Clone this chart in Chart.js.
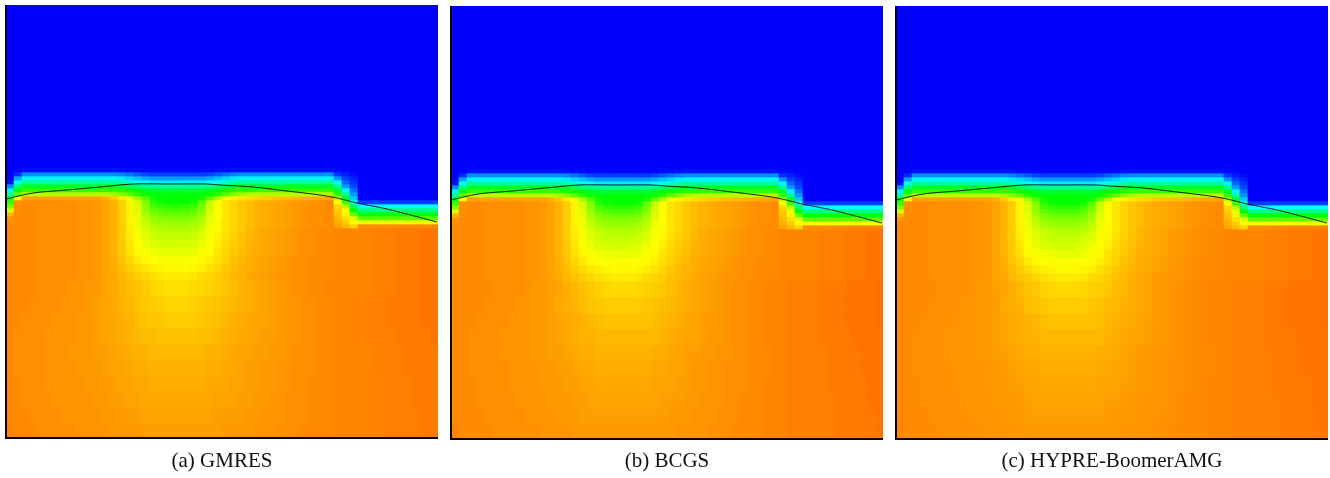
<!DOCTYPE html>
<html><head><meta charset="utf-8">
<script src="https://cdn.jsdelivr.net/npm/chart.js@4"></script>
<style>html,body{margin:0;padding:0;background:#fff;overflow:hidden}canvas{position:absolute;display:block}</style>
</head><body>
<canvas id="a"></canvas><canvas id="b"></canvas><canvas id="c"></canvas>
<script>
const captions=["(a) GMRES","(b) BCGS","(c) HYPRE-BoomerAMG"];
const rowEdges=[0,163,167,171,175,179,183,187,191,195,199,203,207,211,215,219,223,227,235,243,251,259,267,275,291,307,323,339,355,371,387,403,419,433];
const topRow=[0,0,0,0,0,0,0,0,0,0,0,0,0,0,0,0,0,0,0,0,0,0,0,0,0,0,0,0,0,0,0,0,0,0,0,0,0,0,0,0,0,0,0,0,0,0,0,0,0,0,0,0,0,0];
const frontRows=[
[0,0,3,3,3,3,3,3,3,3,3,3,3,3,3,2,2,1,1,1,1,1,1,1,1,1,2,2,3,3,3,3,3,3,3,3,3,3,3,3,3,2,1,0,0,0,0,0,0,0,0,0,0,0],
[0,8,28,28,28,28,28,28,28,28,28,28,28,28,26,22,18,14,12,12,12,12,12,12,12,14,18,22,26,28,28,28,28,28,28,28,28,28,28,28,28,10,6,2,0,0,0,0,0,0,0,0,0,0],
[0,32,48,48,48,48,48,48,48,48,48,48,48,48,46,42,38,33,30,30,30,30,30,30,30,33,38,42,46,48,48,48,48,48,48,48,48,48,48,48,48,28,12,6,0,0,0,0,0,0,0,0,0,0],
[3,54,70,70,70,70,70,70,70,70,70,70,70,70,66,60,54,49,46,46,46,46,46,46,46,49,54,60,66,70,70,70,70,70,70,70,70,70,70,70,70,48,20,10,0,0,0,0,0,0,0,0,0,0],
[28,76,92,92,92,92,92,92,92,92,92,92,92,92,88,84,78,73,70,70,70,70,70,70,70,73,78,84,88,92,92,92,92,92,92,92,92,92,92,92,92,70,30,14,0,0,0,0,0,0,0,0,0,0],
[48,98,110,110,110,110,110,110,110,110,110,110,110,110,107,103,98,94,90,90,90,90,90,90,90,94,98,103,107,110,110,110,110,110,110,110,110,110,110,110,110,92,48,22,0,0,0,0,0,0,0,0,0,0],
[70,118,136,136,136,136,136,136,136,136,136,136,136,132,126,118,108,102,98,98,98,98,98,98,98,102,108,118,126,132,136,136,136,136,136,136,136,136,136,136,136,110,70,30,0,0,0,0,0,0,0,0,0,0],
[92,148,168,168,168,168,168,168,168,168,168,168,165,160,154,146,132,116,104,100,100,100,100,100,104,118,134,148,152,154,156,158,160,161,162,163,164,165,166,167,168,136,92,40,0,0,0,0,0,0,0,0,0,0],
[110,172,173,173,173,172,172,172,172,171,171,170,168,165,160,152,142,126,108,103,101,100,101,104,118,138,150,155,158,161,163,165,166,167,168,169,170,171,172,172,173,150,112,60,12,12,12,12,12,12,12,12,12,12],
[124,172,173,173,172,172,172,172,172,171,171,170,168,165,160,152,143,128,114,110,108,108,108,112,122,140,150,155,158,161,163,165,166,167,168,169,170,171,172,172,173,158,136,78,50,50,50,50,50,50,50,50,50,50],
[144,172,173,173,172,172,172,172,172,171,171,170,168,165,160,152,144,130,120,116,114,114,114,118,126,141,150,155,158,161,163,165,166,167,168,169,170,171,172,172,173,160,148,100,74,74,74,74,74,74,74,74,74,74],
[164,172,173,173,172,172,172,172,172,171,171,170,168,165,160,152,145,133,125,121,120,120,120,122,130,143,150,155,158,161,163,165,166,167,168,169,170,171,172,172,173,162,152,120,96,96,96,96,96,96,96,96,96,96],
[170,173,173,173,172,172,172,172,172,171,171,170,168,165,160,152,146,136,129,126,125,125,125,127,134,145,150,155,158,161,163,165,166,167,168,169,170,171,172,172,173,164,156,144,118,118,118,118,118,118,118,118,118,118],
[172,173,173,173,172,172,172,172,172,171,171,170,168,165,160,152,147,138,132,130,129,129,129,131,136,146,151,155,158,161,163,165,166,167,168,169,170,171,172,172,173,166,160,150,146,146,146,146,146,146,146,146,146,146],
[173,173,173,173,172,172,172,172,172,171,171,170,168,165,160,153,147,140,135,133,132,132,132,134,138,147,151,155,158,161,163,165,166,167,168,169,170,171,172,172,173,168,164,158,172,172,172,172,173,173,173,173,173,174],
[173,173,173,173,172,172,172,172,172,171,171,170,168,165,160,153,148,142,138,136,135,135,135,137,141,148,151,155,158,161,164,166,167,168,169,170,171,172,172,173,173,174,174,174,174,174,175,175,175,176,176,176,177,177],
[173,173,173,173,172,172,172,172,172,171,171,170,168,165,160,154,149,144,140,138,138,138,138,140,143,149,152,156,159,162,164,166,167,168,169,170,171,172,172,173,173,174,174,174,174,174,175,175,175,176,176,176,177,177],
[173,173,173,173,172,172,172,172,172,171,171,170,168,165,161,155,150,146,143,142,141,141,142,143,146,150,153,157,160,162,165,166,167,168,169,170,171,172,172,173,173,174,174,174,174,174,175,175,175,176,176,176,177,177],
[173,173,173,173,172,172,172,172,172,171,171,170,168,165,161,156,151,149,147,146,145,145,145,146,149,151,155,158,161,163,165,166,167,168,169,170,171,172,172,173,173,174,174,174,174,174,175,175,175,176,176,176,177,177],
[173,173,173,173,172,172,172,172,172,171,171,170,168,166,162,158,154,151,150,149,149,149,149,150,151,153,156,159,162,164,166,167,168,169,170,171,172,172,173,173,173,174,174,174,174,174,175,175,175,176,176,176,177,177],
[173,173,173,173,172,172,172,172,172,171,171,170,168,166,163,160,157,155,153,152,151,151,151,152,153,156,158,161,163,165,166,167,168,169,170,171,172,172,173,173,173,174,174,174,174,174,175,175,175,176,176,176,177,177],
[173,173,173,173,172,172,172,172,172,171,171,170,168,167,164,162,160,158,156,155,154,154,154,155,157,158,160,162,164,165,167,168,169,170,171,171,172,172,173,173,173,174,174,174,174,174,175,175,175,176,176,176,177,177]
];
const bodyA=[
[173,173,173,173,172,172,172,172,171,171,170,170,168,167,165,163,162,160,158,157,156,156,156,157,158,159,160,162,163,165,166,167,168,169,170,171,172,172,173,173,174,174,174,174,174,174,175,175,175,176,176,176,177,177],
[173,173,173,172,172,172,172,171,171,171,170,169,168,167,165,164,162,161,160,159,158,158,158,159,160,161,162,163,164,165,166,167,168,169,170,171,171,172,172,173,173,174,174,174,174,175,175,175,176,176,176,176,177,177],
[173,173,172,172,172,172,171,171,171,170,170,169,168,167,166,165,163,162,161,161,160,160,160,160,161,162,163,164,165,166,167,168,168,169,170,171,171,172,172,173,173,174,174,174,174,175,175,175,176,176,176,176,177,177],
[173,172,172,172,172,171,171,171,171,170,170,169,168,167,166,165,164,163,163,162,162,162,162,162,163,163,164,165,166,167,167,168,169,169,170,171,171,172,172,173,173,174,174,174,174,175,175,175,175,176,176,176,176,177],
[173,172,172,172,172,171,171,171,170,170,170,169,169,168,167,166,165,165,164,164,164,164,164,164,164,165,165,166,167,168,168,169,169,170,170,171,172,172,172,173,173,174,174,174,174,174,175,175,175,175,176,176,176,176],
[173,172,172,172,172,171,171,171,171,170,170,170,169,168,168,167,166,166,165,165,165,165,165,165,165,166,166,167,167,168,169,169,170,170,171,171,172,172,172,173,173,174,174,174,174,174,175,175,175,175,176,176,176,176],
[173,173,172,172,172,171,171,171,171,171,170,170,169,169,168,168,167,167,166,166,166,166,166,166,166,167,167,167,168,168,169,169,170,170,171,171,172,172,173,173,173,174,174,174,174,174,174,175,175,175,175,176,176,176],
[173,173,172,172,172,172,171,171,171,171,171,170,170,169,169,168,168,167,167,167,167,167,167,167,167,167,168,168,168,169,169,170,170,171,171,172,172,172,173,173,173,174,174,174,174,174,174,175,175,175,175,176,176,176],
[173,173,173,172,172,172,172,171,171,171,171,171,170,170,169,169,169,168,168,168,168,168,168,168,168,168,169,169,169,169,170,170,171,171,171,172,172,172,173,173,173,174,174,174,174,174,174,175,175,175,175,175,176,176],
[174,173,173,173,172,172,172,172,172,171,171,171,171,170,170,170,170,169,169,169,169,169,169,169,169,169,169,170,170,170,170,171,171,171,172,172,172,173,173,173,173,174,174,174,174,174,174,175,175,175,175,175,176,176]
];
const bodyBC=[
[173,173,173,173,173,172,172,172,172,171,170,170,169,168,166,164,162,161,159,158,157,157,157,158,159,160,161,163,164,166,167,168,169,170,171,172,172,173,173,174,174,174,175,175,175,175,176,176,176,177,177,177,177,178],
[173,173,173,173,172,172,172,172,171,171,170,170,169,167,166,165,163,162,161,160,160,160,160,160,161,162,163,164,165,166,167,168,169,170,171,172,172,173,173,174,174,174,175,175,175,175,176,176,176,177,177,177,177,178],
[173,173,173,172,172,172,172,171,171,171,170,170,169,168,167,166,165,164,163,162,162,162,162,162,162,163,164,165,166,167,168,169,169,170,171,172,172,173,173,174,174,174,175,175,175,175,176,176,176,177,177,177,177,178],
[173,173,172,172,172,172,171,171,171,171,170,170,169,168,167,166,165,165,164,164,164,164,164,164,164,164,165,166,167,168,168,169,170,170,171,172,172,173,173,174,174,174,175,175,175,175,176,176,176,176,177,177,177,177],
[173,173,172,172,172,172,171,171,171,171,170,170,169,169,168,167,166,166,165,165,165,165,165,165,165,166,166,167,168,169,169,170,170,171,171,172,172,173,173,173,174,174,175,175,175,175,175,176,176,176,176,177,177,177],
[173,173,172,172,172,172,172,171,171,171,171,170,170,169,169,168,167,167,166,166,166,166,166,166,166,167,167,168,168,169,170,170,171,171,172,172,172,173,173,173,174,174,175,175,175,175,175,176,176,176,176,177,177,177],
[173,173,173,172,172,172,172,171,171,171,171,170,170,170,169,169,168,168,167,167,167,167,167,167,167,168,168,168,169,169,170,170,171,171,172,172,172,173,173,174,174,174,175,175,175,175,175,176,176,176,176,176,177,177],
[173,173,173,172,172,172,172,172,171,171,171,171,170,170,170,169,169,168,168,168,168,168,168,168,168,168,169,169,169,170,170,171,171,171,172,172,173,173,173,174,174,174,175,175,175,175,175,175,176,176,176,176,177,177],
[173,173,173,173,172,172,172,172,172,171,171,171,171,170,170,170,169,169,169,169,169,169,169,169,169,169,169,170,170,170,171,171,171,172,172,172,173,173,173,174,174,174,175,175,175,175,175,175,176,176,176,176,176,177],
[174,173,173,173,173,172,172,172,172,172,172,171,171,171,171,170,170,170,170,170,170,170,170,170,170,170,170,170,171,171,171,171,172,172,172,173,173,173,173,174,174,174,175,175,175,175,175,175,176,176,176,176,176,177]
];
const panels=[
 {id:"a",left:2,top:5,body:bodyA,caption:captions[0]},
 {id:"b",left:447,top:6,body:bodyBC,caption:captions[1]},
 {id:"c",left:892,top:6,body:bodyBC,caption:captions[2]}
];
const lineX=[0,27,61,94,127,161,201,214,247,281,314,331,351,381,431];
const lineY=[194,188,185,182,179,179,179,180,182,186,190,193,198,204,217];
function color(v){
 let r,g,b;
 if(v<=50){r=0;g=255*v/50;b=255}
 else if(v<=100){r=0;g=255;b=255*(100-v)/50}
 else if(v<=150){r=255*(v-100)/50;g=255;b=0}
 else{r=255;g=255*(200-v)/50;b=0}
 return `rgb(${Math.round(r)},${Math.round(g)},${Math.round(b)})`;
}
const columns=topRow.map((_,i)=>i);
for(const p of panels){
 const rows=[topRow,...frontRows,...p.body];
 const datasets=rows.map((row,i)=>({
  type:"bar",
  xAxisID:"x",yAxisID:"y",
  data:row.map(()=>[rowEdges[i],rowEdges[i+1]]),
  backgroundColor:row.map(color),
  borderWidth:0,barPercentage:1,categoryPercentage:1,grouped:false,order:2
 }));
 datasets.push({
  type:"line",xAxisID:"xl",yAxisID:"y",
  data:lineX.map((x,i)=>({x,y:lineY[i]})),
  borderColor:"rgba(0,0,0,0.85)",borderWidth:1,pointRadius:0,tension:0.3,fill:false,order:1
 });
 const cv=document.getElementById(p.id);
 const H=478-p.top;
 cv.width=436;cv.height=H;cv.style.left=p.left+"px";cv.style.top=p.top+"px";
 cv.style.width="436px";cv.style.height=H+"px";
 new Chart(cv,{
  type:"bar",
  data:{labels:columns,datasets},
  options:{
   responsive:false,animation:false,devicePixelRatio:1,
   layout:{padding:0},
   plugins:{legend:{display:false},tooltip:{enabled:false},title:{display:false}},
   scales:{
    x:{type:"category",grid:{display:false},ticks:{display:false},
       border:{display:true,color:"#000",width:2,z:2},
       title:{display:true,text:p.caption,color:"#111",font:{family:"'Liberation Serif',serif",size:21},padding:{top:12,bottom:4}},
       afterFit(s){s.height=H-433}},
    xl:{type:"linear",display:false,min:0,max:432,offset:false},
    y:{type:"linear",min:0,max:433,reverse:true,grid:{display:false},ticks:{display:false},
       border:{display:true,color:"#000",width:2,z:2},
       afterFit(s){s.width=4}}
   }
  }
 });
}
</script>
</body></html>
